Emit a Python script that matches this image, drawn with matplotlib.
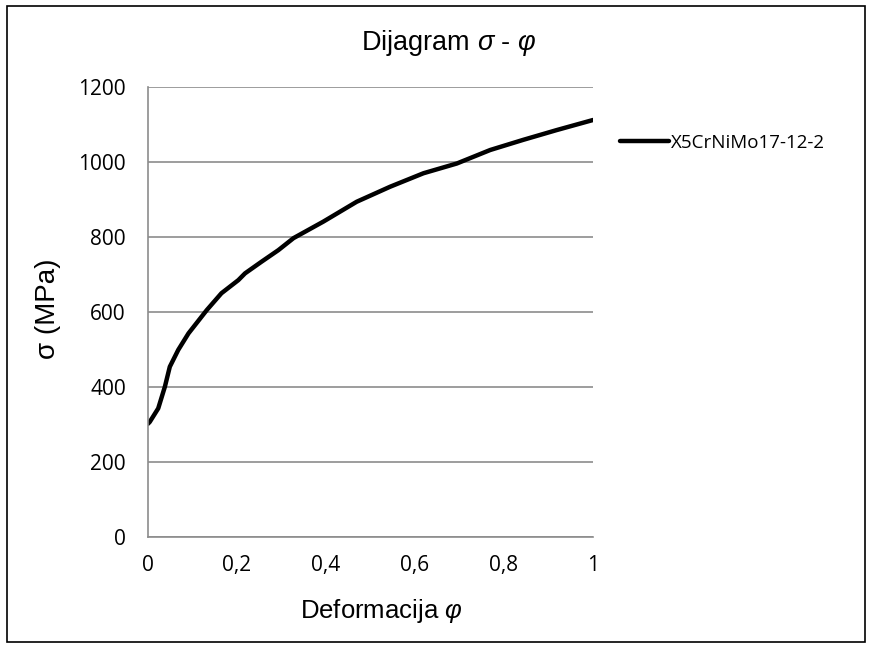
import matplotlib
matplotlib.use("Agg")
from matplotlib import pyplot as plt
from matplotlib.patches import Rectangle

# deformation (phi) and flow stress (MPa)
phi = [0.0, 0.004, 0.023, 0.038, 0.049, 0.068, 0.091, 0.132, 0.165, 0.203,
       0.218, 0.255, 0.293, 0.327, 0.394, 0.469, 0.544, 0.619, 0.694,
       0.769, 0.843, 0.918, 1.0]
sigma = [302, 307, 343, 401, 454, 499, 543, 605, 650, 685,
         703, 734, 765, 797, 841, 894, 934, 970, 996,
         1032, 1059, 1085, 1112]
series_name = "X5CrNiMo17-12-2"
x_ticks = [0, 0.2, 0.4, 0.6, 0.8, 1]
x_labels = ["0", "0,2", "0,4", "0,6", "0,8", "1"]
y_ticks = [0, 200, 400, 600, 800, 1000, 1200]

plt.rcParams["mathtext.fontset"] = "custom"
plt.rcParams["mathtext.rm"] = "Liberation Sans"
plt.rcParams["mathtext.it"] = "Liberation Sans:italic"

fig = plt.figure(figsize=(8.72, 6.48), dpi=100)
ax = fig.add_axes([148 / 872, 1 - 537 / 648, 445 / 872, 450 / 648])

line, = ax.plot(phi, sigma, color="black", linewidth=3.2,
                solid_capstyle="round", label=series_name)

ax.set_xlim(0, 1)
ax.set_ylim(0, 1200)
ax.set_xticks(x_ticks)
ax.set_xticklabels(x_labels)
ax.set_yticks(y_ticks)
ax.grid(axis="y", color="#8c8c8c", linewidth=1.2)
ax.set_axisbelow(True)
for side in ["top", "right"]:
    ax.spines[side].set_visible(False)
for side in ["left", "bottom"]:
    ax.spines[side].set_color("#8c8c8c")
    ax.spines[side].set_linewidth(1.2)
ax.tick_params(length=0, labelsize=15, colors="black")
ax.tick_params(axis="y", pad=16)
ax.tick_params(axis="x", pad=13)
for lbl in ax.get_xticklabels() + ax.get_yticklabels():
    lbl.set_fontfamily("Open Sans")

fig.text(449 / 872, 1 - 50 / 648, r"Dijagram $\it{\sigma}$ - $\it{\varphi}$",
         ha="center", va="baseline", fontsize=19.5, family="Liberation Sans")
fig.text(381 / 872, 1 - 618 / 648, r"Deformacija $\it{\varphi}$",
         ha="center", va="baseline", fontsize=18.5, family="Liberation Sans")
fig.text(48 / 872, 1 - 309 / 648, "σ (MPa)", rotation=90,
         ha="center", va="center", fontsize=20, family="Liberation Sans")

leg = fig.legend(handles=[line], loc="center left",
                 bbox_to_anchor=(603 / 872, 1 - 143 / 648),
                 frameon=False, handlelength=2.6, handletextpad=0.1,
                 prop={"family": "Open Sans", "size": 13.5})

fig.add_artist(Rectangle((7 / 872, 6 / 648), 858 / 872, 636 / 648,
                         transform=fig.transFigure, fill=False,
                         edgecolor="black", linewidth=1.2))

fig.savefig("out.png", dpi=100)
